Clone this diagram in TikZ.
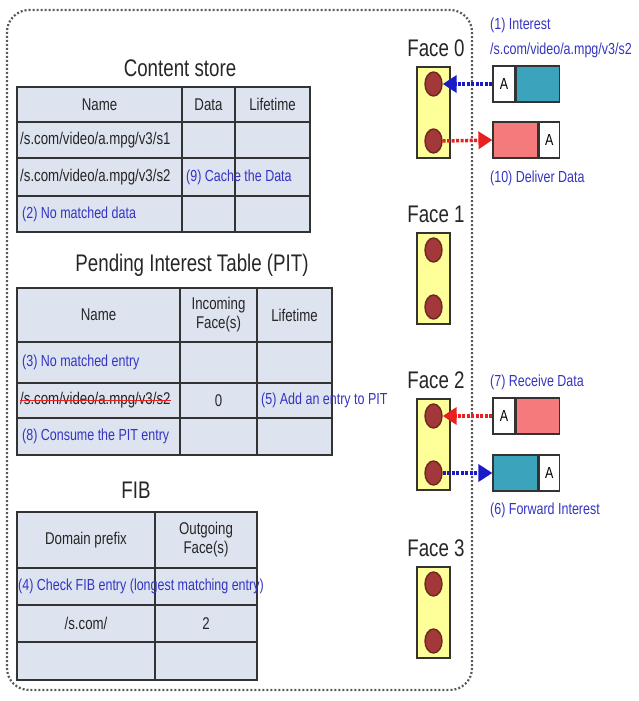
\documentclass[tikz,border=0pt]{standalone}
\usepackage{fontspec}
\setmainfont[FakeStretch=0.78]{Liberation Sans}
\usetikzlibrary{shapes.geometric,arrows.meta}
\definecolor{tablefill}{HTML}{DDE3EF}
\definecolor{rulec}{HTML}{333333}
\definecolor{notec}{HTML}{3434C4}
\definecolor{facefill}{HTML}{FFFF99}
\definecolor{portfill}{HTML}{A3383A}
\definecolor{portline}{HTML}{6A2A1A}
\definecolor{tealc}{HTML}{3BA3BC}
\definecolor{pinkc}{HTML}{F57A7C}
\definecolor{arrowblue}{HTML}{1A1AC8}
\definecolor{arrowred}{HTML}{E82020}
\begin{document}
\begin{tikzpicture}[x=1pt,y=-1pt,
  title/.style={font=\fontsize{24}{26}\selectfont, text=black!85, inner sep=0},
  celltext/.style={font=\fontsize{17}{19}\selectfont, text=black!85, inner sep=0, align=center},
  notetext/.style={font=\fontsize{16}{18}\selectfont, text=notec, inner sep=0},
  tbl/.style={fill=tablefill, draw=rulec, line width=1.4pt},
  gridline/.style={draw=rulec, line width=1.6pt},
  facebox/.style={draw=rulec, fill=facefill, line width=1.2pt, minimum width=33pt, minimum height=91pt, inner sep=0},
  port/.style={ellipse, draw=portline, fill=portfill, line width=1.4pt, minimum width=17pt, minimum height=24pt, inner sep=0},
  pkt/.style={draw=rulec, line width=1.2pt, minimum height=36pt, inner sep=0, font=\fontsize{16}{18}\selectfont},
  flow/.style={line width=3.5pt, dash pattern=on 3pt off 1.5pt, -{Triangle[length=14pt,width=17pt]}}]
\useasboundingbox (0,0) rectangle (638,701);

% router boundary
\draw[black!65, line width=2.2pt, dash pattern=on 2pt off 2pt, rounded corners=22pt] (7,10) rectangle (472,690);

% ---------- Content store ----------
\node[title] (cstitle) at (180,68) {Content store};
\draw[tbl] (17,87) rectangle (310,232);
\draw[gridline] (182,87) -- (182,232) (235,87) -- (235,232)
  (17,122) -- (310,122) (17,158) -- (310,158) (17,196) -- (310,196);
\node[celltext] (csname) at (99.5,104.5) {Name};
\node[celltext] (csdata) at (208.5,104.5) {Data};
\node[celltext] (cslife) at (272.5,104.5) {Lifetime};
\node[celltext, anchor=west] (csr1) at (20,140) {/s.com/video/a.mpg/v3/s1};
\node[celltext, anchor=west] (csr2) at (20,177) {/s.com/video/a.mpg/v3/s2};
\node[notetext, anchor=west] (cs9) at (186,177) {(9) Cache the Data};
\node[notetext, anchor=west] (cs2) at (22,214) {(2) No matched data};

% ---------- Pending Interest Table ----------
\node[title] (pittitle) at (192,265) {Pending Interest Table (PIT)};
\draw[tbl] (17,288) rectangle (332,455);
\draw[gridline] (180,288) -- (180,455) (257,288) -- (257,455)
  (17,342) -- (332,342) (17,383) -- (332,383) (17,418) -- (332,418);
\node[celltext] (pitname) at (98.5,315) {Name};
\node[celltext] (pitface) at (218.5,315) {Incoming\\Face(s)};
\node[celltext] (pitlife) at (294.5,315) {Lifetime};
\node[notetext, anchor=west] (pit3) at (22,362.5) {(3) No matched entry};
\node[celltext, anchor=west] (pitr2) at (20,400.5) {/s.com/video/a.mpg/v3/s2};
\draw[arrowred, line width=1.5pt] (pitr2.west) -- (pitr2.east);
\node[celltext] (pitzero) at (218.5,400.5) {0};
\node[notetext, anchor=west] (pit5) at (261,400.5) {(5) Add an entry to PIT};
\node[notetext, anchor=west] (pit8) at (22,436.5) {(8) Consume the PIT entry};

% ---------- FIB ----------
\node[title] (fibtitle) at (136,490) {FIB};
\draw[tbl] (17,512) rectangle (257,680);
\draw[gridline] (155,512) -- (155,680)
  (17,568) -- (257,568) (17,605) -- (257,605) (17,642) -- (257,642);
\node[celltext] (fibprefix) at (86,540) {Domain prefix};
\node[celltext] (fibface) at (206,540) {Outgoing\\Face(s)};
\node[notetext, anchor=west] (fib4) at (18,586.5) {(4) Check FIB entry (longest matching entry)};
\node[celltext] (fibscom) at (86,623.5) {/s.com/};
\node[celltext] (fibtwo) at (206,623.5) {2};

% ---------- Faces ----------
\foreach \i/\top in {0/67,1/233,2/399,3/567}{
  \node[title] (face\i) at (436,\top-19) {Face \i};
  \node[facebox] (fbox\i) at (433.5,\top+45.5) {};
  \node[port] (port\i a) at (433.5,\top+17) {};
  \node[port] (port\i b) at (433.5,\top+74) {};
}

% ---------- Packets at Face 0 ----------
\node[notetext, anchor=west] (lab1) at (490,25) {(1) Interest};
\node[notetext, anchor=west] (lab1n) at (490,50) {/s.com/video/a.mpg/v3/s2};
\node[pkt, fill=white, minimum width=22pt] (int0a) at (504,84) {A};
\node[pkt, fill=tealc, minimum width=43pt, anchor=west] (int0b) at (int0a.east) {};
\node[pkt, fill=pinkc, minimum width=45pt] (dat0b) at (515.5,140) {};
\node[pkt, fill=white, minimum width=20pt, anchor=west] (dat0a) at (dat0b.east) {A};
\node[notetext, anchor=west] (lab10) at (490,178) {(10) Deliver Data};
\draw[flow, arrowblue] (int0a.west) -- (port0a.east);
\draw[flow, arrowred] (port0b.east) -- (dat0b.west);

% ---------- Packets at Face 2 ----------
\node[notetext, anchor=west] (lab7) at (490,382) {(7) Receive Data};
\node[pkt, fill=white, minimum width=22pt] (dat2a) at (504,416) {A};
\node[pkt, fill=pinkc, minimum width=43pt, anchor=west] (dat2b) at (dat2a.east) {};
\node[pkt, fill=tealc, minimum width=45pt] (int2b) at (515.5,473) {};
\node[pkt, fill=white, minimum width=20pt, anchor=west] (int2a) at (int2b.east) {A};
\node[notetext, anchor=west] (lab6) at (490,510) {(6) Forward Interest};
\draw[flow, arrowred] (dat2a.west) -- (port2a.east);
\draw[flow, arrowblue] (port2b.east) -- (int2b.west);
\end{tikzpicture}
\end{document}
